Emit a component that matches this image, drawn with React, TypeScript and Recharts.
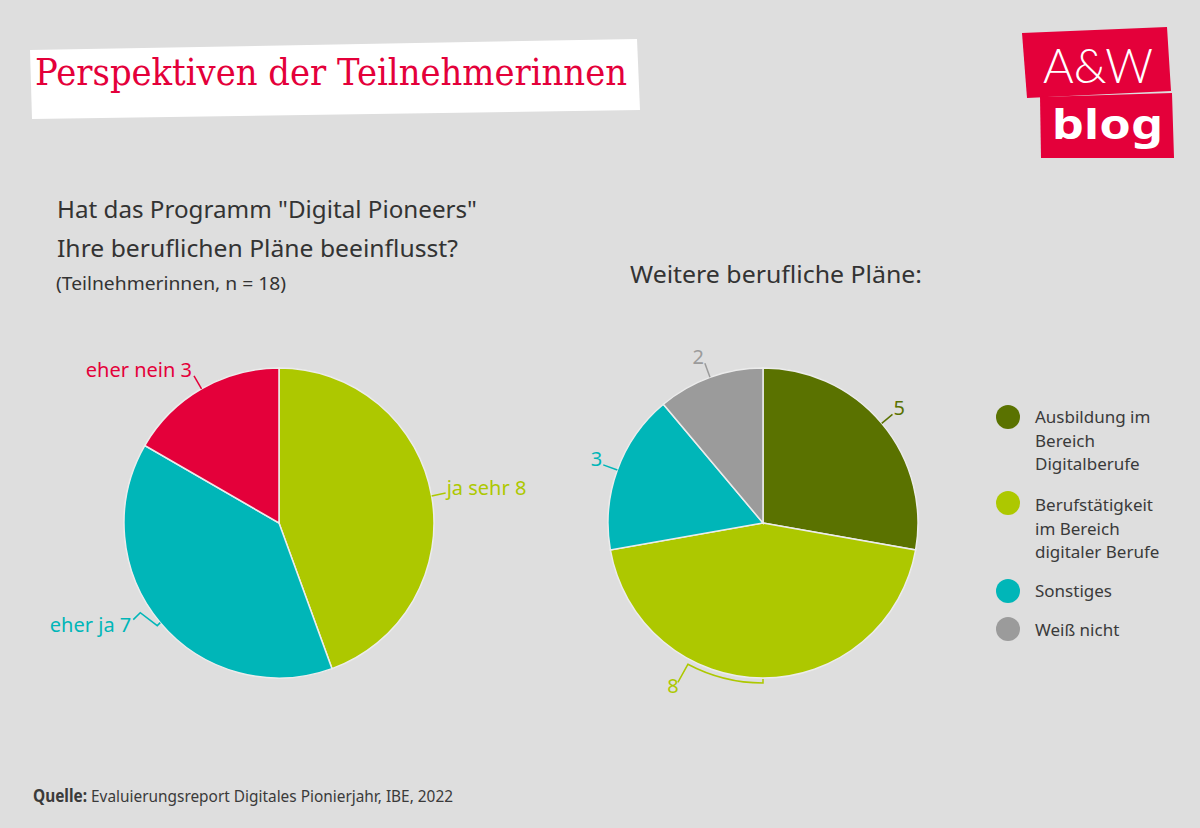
import React from "react";
import { PieChart, Pie, Cell } from "recharts";

// Linkes Diagramm: Einfluss des Programms
const leftNames = ["ja sehr", "eher ja", "eher nein"];
const leftValues = [8, 7, 3];
const leftColors = ["#adc800", "#00b6b8", "#e4003a"];

// Rechtes Diagramm: weitere berufliche Pläne
const rightNames = [
  "Ausbildung im Bereich Digitalberufe",
  "Berufstätigkeit im Bereich digitaler Berufe",
  "Sonstiges",
  "Weiß nicht",
];
const rightValues = [5, 8, 3, 2];
const rightColors = ["#5a7200", "#adc800", "#00b6b8", "#9b9b9b"];
const legendLines = [
  ["Ausbildung im", "Bereich", "Digitalberufe"],
  ["Berufstätigkeit", "im Bereich", "digitaler Berufe"],
  ["Sonstiges"],
  ["Weiß nicht"],
];

const leftData = leftNames.map((name, i) => ({ name, value: leftValues[i] }));
const rightData = rightNames.map((name, i) => ({ name, value: rightValues[i] }));

const FONT = "'Noto Sans', 'Open Sans', sans-serif";
const RAD = Math.PI / 180;

function polar(cx: number, cy: number, r: number, angle: number) {
  return [cx + r * Math.cos(-angle * RAD), cy + r * Math.sin(-angle * RAD)];
}

function LeftLabel(props: any) {
  const { cx, cy, midAngle, outerRadius, index, value } = props;
  const color = leftColors[index];
  const [x0, y0] = polar(cx, cy, outerRadius, midAngle);
  let d = "";
  let tx = 0;
  let ty = 0;
  let anchor: "start" | "end" = "start";
  if (index === 0) {
    d = `M${x0},${y0}L${x0 + 14},${y0 - 3}`;
    tx = x0 + 15;
    ty = y0 - 1;
  } else if (index === 1) {
    // zigzag leader
    d = `M${x0},${y0}L${x0 - 3},${y0 + 3}L${x0 - 20},${y0 - 10}L${x0 - 27},${y0 - 3}`;
    tx = x0 - 29;
    ty = y0 + 9;
    anchor = "end";
  } else {
    const [x1, y1] = polar(cx, cy, outerRadius + 15, midAngle);
    d = `M${x0},${y0}L${x1},${y1}`;
    tx = x1 - 2;
    ty = y1 + 1;
    anchor = "end";
  }
  return (
    <g>
      <path d={d} stroke={color} strokeWidth={1.5} fill="none" />
      <text x={tx} y={ty} fill={color} fontSize={20} fontFamily={FONT} textAnchor={anchor}>
        {`${leftNames[index]} ${value}`}
      </text>
    </g>
  );
}

function RightLabel(props: any) {
  const { cx, cy, midAngle, outerRadius, index, value } = props;
  const color = rightColors[index];
  const [x0, y0] = polar(cx, cy, outerRadius, midAngle);
  let d = "";
  let tx = 0;
  let ty = 0;
  let anchor: "start" | "end" | "middle" = "start";
  if (index === 0) {
    const [x1, y1] = polar(cx, cy, outerRadius + 14, midAngle);
    d = `M${x0},${y0}L${x1},${y1}`;
    tx = x1 + 1;
    ty = y1 + 1;
  } else if (index === 1) {
    // bracket along the arc under the slice
    const r2 = outerRadius + 5;
    const [xa, ya] = polar(cx, cy, outerRadius + 1, midAngle);
    const [xb, yb] = polar(cx, cy, r2, midAngle);
    const [xc, yc] = polar(cx, cy, r2, midAngle - 28);
    d = `M${xa},${ya}L${xb},${yb}A${r2},${r2} 0 0,1 ${xc},${yc}L${xc - 10},${yc + 18}`;
    tx = xc - 15;
    ty = yc + 29;
    anchor = "middle";
  } else {
    const [x1, y1] = polar(cx, cy, outerRadius + 15, midAngle);
    d = `M${x0},${y0}L${x1},${y1}`;
    tx = x1 - 1;
    ty = y1 + 1;
    anchor = "end";
  }
  return (
    <g>
      <path d={d} stroke={color} strokeWidth={1.5} fill="none" />
      <text x={tx} y={ty} fill={color} fontSize={20} fontFamily={FONT} textAnchor={anchor}>
        {value}
      </text>
    </g>
  );
}

export default function App() {
  return (
    <div
      style={{
        position: "absolute",
        left: 0,
        top: 0,
        width: 1200,
        height: 828,
        background: "#dedede",
        overflow: "hidden",
      }}
    >
      <div style={{ position: "absolute", left: 0, top: 0 }}>
        <PieChart width={1200} height={828} margin={{ top: 0, right: 0, bottom: 0, left: 0 }}>
          <Pie
            data={leftData}
            dataKey="value"
            nameKey="name"
            cx={279}
            cy={523}
            outerRadius={155}
            startAngle={90}
            endAngle={-270}
            stroke="#ececec"
            strokeWidth={1.5}
            label={LeftLabel}
            labelLine={false}
            isAnimationActive={false}
          >
            {leftData.map((d, i) => (
              <Cell key={d.name} fill={leftColors[i]} />
            ))}
          </Pie>
          <Pie
            data={rightData}
            dataKey="value"
            nameKey="name"
            cx={763}
            cy={523}
            outerRadius={155}
            startAngle={90}
            endAngle={-270}
            stroke="#ececec"
            strokeWidth={1.5}
            label={RightLabel}
            labelLine={false}
            isAnimationActive={false}
          >
            {rightData.map((d, i) => (
              <Cell key={d.name} fill={rightColors[i]} />
            ))}
          </Pie>
        </PieChart>
      </div>

      <svg
        width={1200}
        height={828}
        style={{ position: "absolute", left: 0, top: 0, pointerEvents: "none" }}
      >
        {/* Titel */}
        <polygon points="30,50 637,39 640,110 32,119" fill="#ffffff" />
        <text
          x={35}
          y={85}
          fill="#e4003a"
          fontSize={38}
          fontFamily="'DejaVu Serif', serif"
          textLength={592}
          lengthAdjust="spacingAndGlyphs"
        >
          Perspektiven der Teilnehmerinnen
        </text>

        {/* Logo */}
        <polygon points="1022,33 1167,27 1171,91 1027,98" fill="#e4003a" />
        <polygon points="1040,97 1172,93 1174,158 1041,158" fill="#e4003a" />
        <text
          x={1043}
          y={83}
          fill="#ffffff"
          fontSize={48}
          fontWeight={300}
          fontFamily="Lato, sans-serif"
          textLength={110}
          lengthAdjust="spacingAndGlyphs"
        >
          A&amp;W
        </text>
        <text
          x={1052}
          y={139}
          fill="#ffffff"
          fontSize={42}
          fontWeight={700}
          fontFamily={FONT}
          textLength={111}
          lengthAdjust="spacingAndGlyphs"
        >
          blog
        </text>

        {/* Fragen */}
        <g fill="#333333" fontFamily={FONT}>
          <text x={57} y={218} fontSize={24} textLength={420} lengthAdjust="spacingAndGlyphs">
            Hat das Programm "Digital Pioneers"
          </text>
          <text x={57} y={257} fontSize={24} textLength={401} lengthAdjust="spacingAndGlyphs">
            Ihre beruflichen Pläne beeinflusst?
          </text>
          <text x={56} y={290} fontSize={18} textLength={230} lengthAdjust="spacingAndGlyphs">
            (Teilnehmerinnen, n = 18)
          </text>
          <text x={630} y={283} fontSize={24} textLength={292} lengthAdjust="spacingAndGlyphs">
            Weitere berufliche Pläne:
          </text>
        </g>

        {/* Legende */}
        <g fontFamily={FONT} fill="#3a3a3a" fontSize={17}>
          {legendLines.map((lines, i) => {
            const tops = [423, 511, 597, 636];
            const cyc = [417, 503, 591, 629];
            return (
              <g key={i}>
                <circle cx={1008} cy={cyc[i]} r={12} fill={rightColors[i]} />
                {lines.map((t, j) => (
                  <text key={t} x={1035} y={tops[i] + j * 23.5}>
                    {t}
                  </text>
                ))}
              </g>
            );
          })}
        </g>

        {/* Quelle */}
        <text
          x={33}
          y={802}
          fontSize={17}
          fill="#3a3a3a"
          fontFamily={FONT}
          textLength={420}
          lengthAdjust="spacingAndGlyphs"
        >
          <tspan fontWeight={700}>Quelle:</tspan>
          <tspan> Evaluierungsreport Digitales Pionierjahr, IBE, 2022</tspan>
        </text>
      </svg>
    </div>
  );
}
